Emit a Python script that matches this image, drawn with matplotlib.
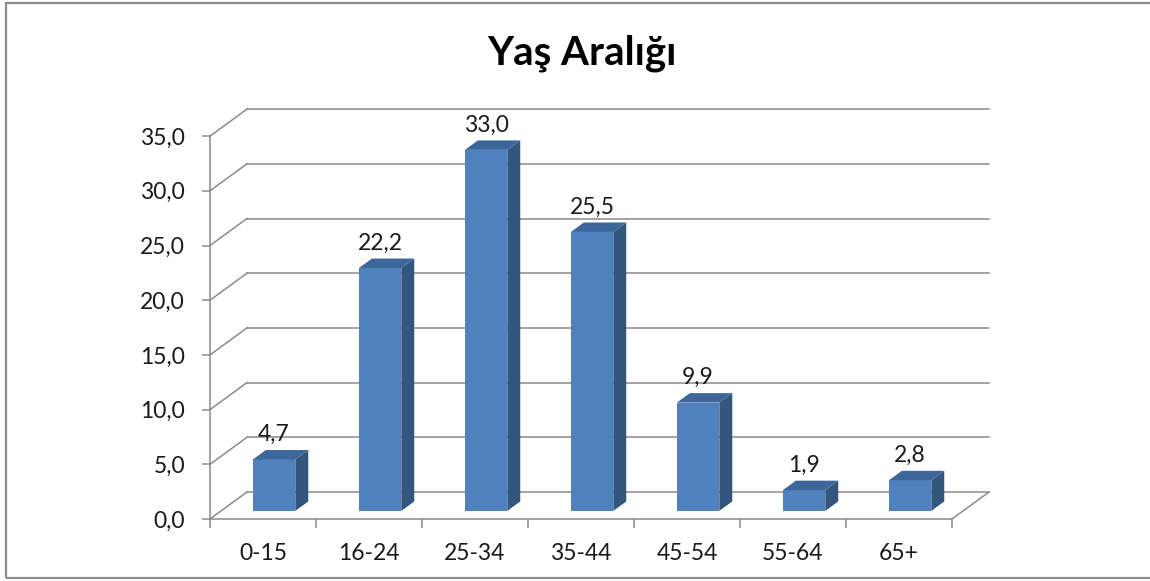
import matplotlib
matplotlib.use("Agg")
import matplotlib.pyplot as plt
from matplotlib.patches import Polygon, Rectangle
from matplotlib.ticker import FixedLocator, FuncFormatter

plt.rcParams['font.family'] = ['Lato', 'DejaVu Sans']

# ---- data ----
categories = ["0-15", "16-24", "25-34", "35-44", "45-54", "55-64", "65+"]
values = [4.7, 22.2, 33.0, 25.5, 9.9, 1.9, 2.8]
y_ticks = [0, 5, 10, 15, 20, 25, 30, 35]
title = "Yaş Aralığı"

# ---- style / geometry ----
W, H, DPI = 1150, 581, 100
GRID = "#8a8a8a"
FRONT = "#4F81BD"
SIDE = "#33567f"
TOP = "#3d669a"
TXT = "#1a1a1a"

fig = plt.figure(figsize=(W / DPI, H / DPI), dpi=DPI)
ax_left_px, ax_right_px = 210, 952
ax_bottom_px = H - 519
px_per_unit = 10.94
ymax = 35
ax = fig.add_axes([ax_left_px / W, ax_bottom_px / H,
                   (ax_right_px - ax_left_px) / W, ymax * px_per_unit / H])
n = len(categories)
ax.set_xlim(0, n)
ax.set_ylim(0, ymax)

cat_px = (ax_right_px - ax_left_px) / n
DX = 37 / cat_px          # depth offset in category units
DY = 27 / px_per_unit     # depth offset in value units
f0 = 0.30                 # bar front depth fraction
bd = 0.35                 # bar depth fraction
bw = 0.40                 # bar width (category units)

# back wall and side wall gridlines
for v in y_ticks:
    ax.plot([DX, n + DX], [v + DY, v + DY], color=GRID, lw=1.1, clip_on=False, zorder=1)
    ax.plot([0, DX], [v, v + DY], color=GRID, lw=1.1, clip_on=False, zorder=1)
# floor right edge
ax.plot([n, n + DX], [0, DY], color=GRID, lw=1.1, clip_on=False, zorder=1)

# bars
for i, v in enumerate(values):
    x0 = i + 0.5 - bw / 2 + f0 * DX
    y0 = f0 * DY
    ddx, ddy = bd * DX, bd * DY
    front = Rectangle((x0, y0), bw, v, facecolor=FRONT, edgecolor='none', zorder=3, clip_on=False)
    side = Polygon([(x0 + bw, y0), (x0 + bw + ddx, y0 + ddy),
                    (x0 + bw + ddx, y0 + v + ddy), (x0 + bw, y0 + v)],
                   closed=True, facecolor=SIDE, edgecolor='none', zorder=3, clip_on=False)
    top = Polygon([(x0, y0 + v), (x0 + ddx, y0 + v + ddy),
                   (x0 + bw + ddx, y0 + v + ddy), (x0 + bw, y0 + v)],
                  closed=True, facecolor=TOP, edgecolor='none', zorder=3, clip_on=False)
    ax.add_patch(front)
    ax.add_patch(side)
    ax.add_patch(top)
    ax.annotate(f"{v:.1f}".replace('.', ','), xy=(x0 + bw / 2, y0 + v),
                xytext=(0, 18), textcoords='offset points', ha='center', va='center',
                fontsize=16.5, color=TXT, zorder=5, annotation_clip=False)

# axes spines & ticks
for s in ['top', 'right']:
    ax.spines[s].set_visible(False)
for s in ['left', 'bottom']:
    ax.spines[s].set_color(GRID)
    ax.spines[s].set_linewidth(1.1)
ax.patch.set_visible(False)

ax.yaxis.set_major_locator(FixedLocator(y_ticks))
ax.yaxis.set_major_formatter(FuncFormatter(lambda y, p: f"{y:.1f}".replace('.', ',')))
ax.tick_params(axis='y', which='major', direction='out', length=6, width=1.1,
               color=GRID, labelsize=16.5, labelcolor=TXT, pad=12)

ax.xaxis.set_major_locator(FixedLocator(list(range(n + 1))))
ax.xaxis.set_major_formatter(FuncFormatter(lambda x, p: ""))
ax.xaxis.set_minor_locator(FixedLocator([i + 0.5 for i in range(n)]))
ax.xaxis.set_minor_formatter(FuncFormatter(lambda x, p: categories[int(x)] if 0 <= int(x) < n else ""))
ax.tick_params(axis='x', which='major', direction='out', length=6.5, width=1.1, color=GRID)
ax.tick_params(axis='x', which='minor', length=0, labelsize=16.5, labelcolor=TXT, pad=17)

# title
fig.text(582 / W, 1 - 53 / H, title, ha='center', va='center',
         fontsize=29, fontweight='bold', color='#000000')

# chart border
fig.patches.append(Rectangle((6 / W, 3 / H), 1.2, (578 - 3) / H, transform=fig.transFigure,
                             fill=False, edgecolor='#8c8c8c', lw=1.6))

fig.savefig("out.png", dpi=DPI)
